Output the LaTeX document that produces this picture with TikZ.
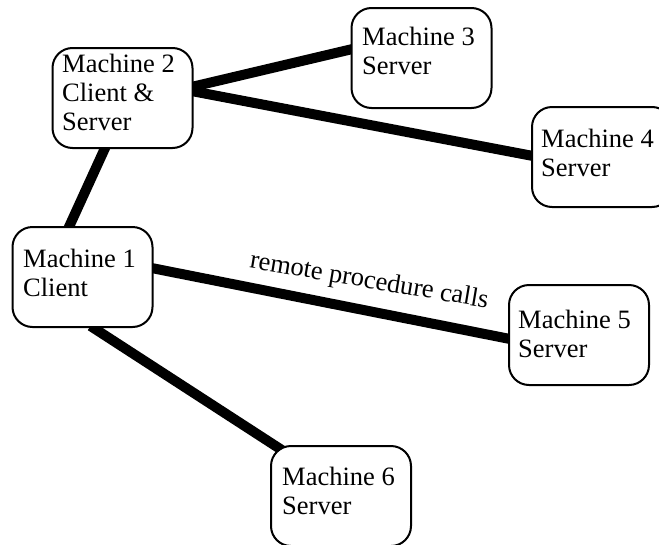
\documentclass[tikz,border=0pt]{standalone}
\usepackage{fontspec}
\setmainfont{Liberation Serif}
\usetikzlibrary{calc,backgrounds}
\tikzset{
  machine/.style={draw, line width=2pt, rounded corners=20pt, fill=white,
    minimum width=140pt, minimum height=100pt, inner sep=0pt},
  mtext/.style={anchor=base west, inner sep=0pt},
  link/.style={line width=10pt, line cap=butt},
  rpclabel/.style={inner sep=0pt, font=\fontsize{26.5pt}{29pt}\selectfont}
}
\newcommand{\mlines}[1]{\parbox[t]{135pt}{\fontsize{26.5pt}{29pt}\selectfont #1}}
\begin{document}
\begin{tikzpicture}[x=1pt,y=-1pt]
\useasboundingbox (0,0) rectangle (659,544);
% boxes
\node[machine] (m2) at (122.5,98) {};
\node[machine] (m3) at (421.5,58) {};
\node[machine] (m4) at (602,157) {};
\node[machine] (m1) at (82.5,277) {};
\node[machine] (m5) at (579,335) {};
\node[machine] (m6) at (341,496) {};
% texts
\node[mtext] (t2) at (62,72) {\mlines{Machine 2\\Client \&\\Server}};
\node[mtext] (t3) at (362,45) {\mlines{Machine 3\\Server}};
\node[mtext] (t4) at (541,147) {\mlines{Machine 4\\Server}};
\node[mtext] (t1) at (23,267) {\mlines{Machine 1\\Client}};
\node[mtext] (t5) at (518,328) {\mlines{Machine 5\\Server}};
\node[mtext] (t6) at (282,485) {\mlines{Machine 6\\Server}};
\node[rpclabel, rotate=-9.6, anchor=base] (rpc) at (368,288) {remote procedure calls};
% connectors
\begin{scope}[on background layer]
\draw[link] ($(m2.south west)+(54,-2)$) -- ($(m1.north west)+(57,2)$);
\draw[link] ($(m2.north east)+(-2,40)$) -- ($(m3.north west)+(2,42)$);
\draw[link] ($(m2.north east)+(-2,44)$) -- ($(m4.north west)+(2,50)$);
\draw[link] ($(m1.north east)+(-2,42)$) -- ($(m5.north west)+(2,55)$);
\draw[link] ($(m1.south west)+(79,-2)$) -- ($(m6.north west)+(18,9)$);
\end{scope}
\end{tikzpicture}
\end{document}
